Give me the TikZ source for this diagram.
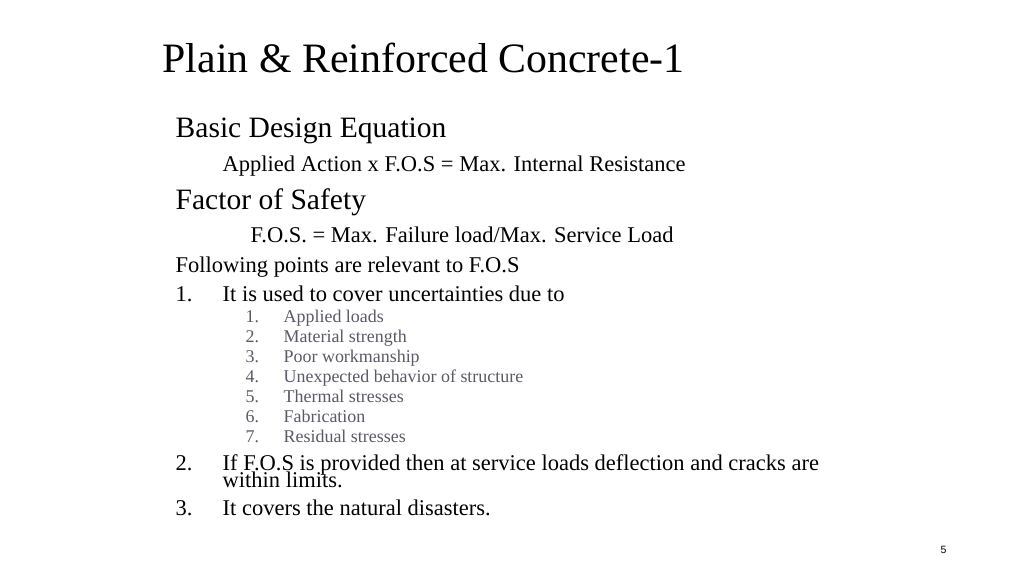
\documentclass[tikz,border=0pt]{standalone}
\usepackage{fontspec}
\setmainfont{Liberation Serif}
\setsansfont{Liberation Sans}
\definecolor{subgray}{HTML}{595968}
\begin{document}
\begin{tikzpicture}[x=0.01cm,y=-0.01cm,
  txt/.style={anchor=base west,inner sep=0pt,text=black},
  ttl/.style={txt,font=\fontsize{11.9pt}{12pt}\selectfont},
  hd/.style={txt,font=\fontsize{8.4pt}{9pt}\selectfont},
  bd/.style={txt,font=\fontsize{6.4pt}{7pt}\selectfont},
  sb/.style={txt,font=\fontsize{5.1pt}{5.5pt}\selectfont,text=subgray}]
\useasboundingbox (0,0) rectangle (1024,576);
\node[ttl] (t) at (162,73) {Plain \& Reinforced Concrete-1};
\node[hd] (h1) at (175,138) {Basic Design Equation};
\node[bd] (b1) at (222,172) {Applied Action x F.O.S = Max. Internal Resistance};
\node[hd] (h2) at (175,209) {Factor of Safety};
\node[bd] (b2) at (250,243) {F.O.S. = Max. Failure load/Max. Service Load};
\node[bd] (b3) at (175,273) {Following points are relevant to F.O.S};
\node[bd] (n1) at (175,301) {1.};
\node[bd] (l1) at (222,301) {It is used to cover uncertainties due to};
\foreach \i/\t [count=\k] in {323/Applied loads,343/Material strength,363/Poor workmanship,383/Unexpected behavior of structure,402/Thermal stresses,422/Fabrication,442/Residual stresses}{
  \node[sb] (sn\k) at (245,\i) {\k.};
  \node[sb] (st\k) at (283,\i) {\t};
}
\node[bd] (n2) at (175,470) {2.};
\node[bd] (l2) at (222,470) {If F.O.S is provided then at service loads deflection and cracks are};
\node[bd] (l2b) at (222,487) {within limits.};
\node[bd] (n3) at (175,515) {3.};
\node[bd] (l3) at (222,515) {It covers the natural disasters.};
\node[txt,font=\sffamily\fontsize{3pt}{3pt}\selectfont] (p) at (940,553) {5};
\end{tikzpicture}
\end{document}
